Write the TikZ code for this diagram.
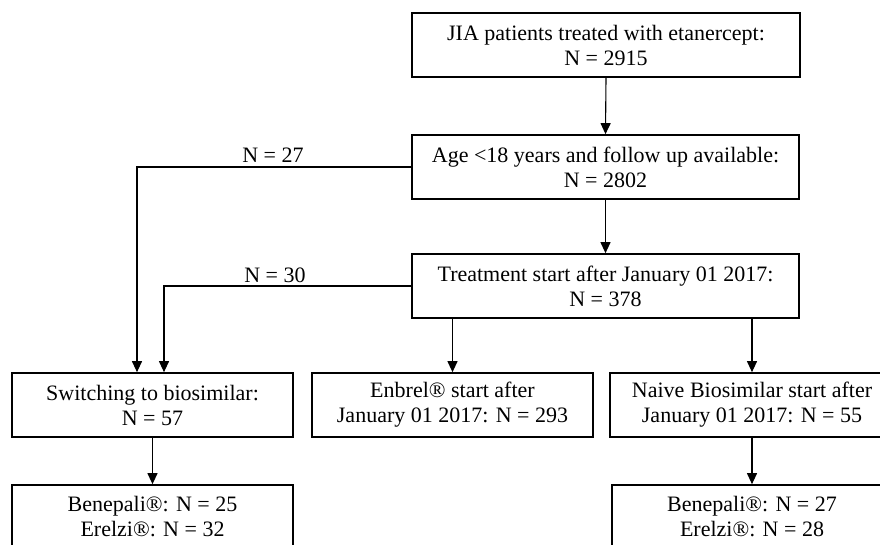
\documentclass[tikz,border=0pt]{standalone}
\usepackage{fontspec}
\setmainfont{Liberation Serif}
\usetikzlibrary{arrows.meta}
\begin{document}
\begin{tikzpicture}[x=1pt,y=-1pt,
  box/.style={draw,line width=1.7pt,align=center,inner sep=0pt,minimum height=64pt,font=\fontsize{22}{25}\selectfont},
  conn/.style={line width=1.1pt,-{Triangle[width=10pt,length=11pt]}},
  lbl/.style={font=\fontsize{22}{25}\selectfont,anchor=base}]
\useasboundingbox (0,0) rectangle (880,544);
\clip (0,0) rectangle (880,544);
\node[box,minimum width=388pt] (top) at (606,45) {JIA patients treated with etanercept:\\N = 2915};
\node[box,minimum width=387pt] (age) at (605.5,167) {Age <18 years and follow up available:\\N = 2802};
\node[box,minimum width=387pt] (treat) at (605.5,286) {Treatment start after January 01 2017:\\N = 378};
\node[box,minimum width=281pt] (switch) at (152.5,405) {Switching to biosimilar:\\N = 57};
\node[box,minimum width=281pt] (enbrel) at (452.5,405) {Enbrel® start after\\January 01 2017: N = 293};
\node[box,minimum width=284pt] (naive) at (752,405) {Naive Biosimilar start after\\January 01 2017: N = 55};
\node[box,minimum width=281pt] (bl) at (152.5,517) {Benepali®: N = 25\\Erelzi®: N = 32};
\node[box,minimum width=280pt] (br) at (752,517) {Benepali®: N = 27\\Erelzi®: N = 28};
\draw[conn] (top.south) -- (age.north);
\draw[conn] (age.south) -- (treat.north);
\draw[conn] (age.west) -| ([xshift=-15.5pt]switch.north);
\draw[conn] (treat.west) -| ([xshift=11.5pt]switch.north);
\draw[conn] (treat.south -| enbrel.north) -- (enbrel.north);
\draw[conn] (treat.south -| naive.north) -- (naive.north);
\draw[conn] (switch.south) -- (bl.north);
\draw[conn] (naive.south) -- (br.north);
\node[lbl] (l27) at (273,162) {N = 27};
\node[lbl] (l30) at (275,282) {N = 30};
\end{tikzpicture}
\end{document}
